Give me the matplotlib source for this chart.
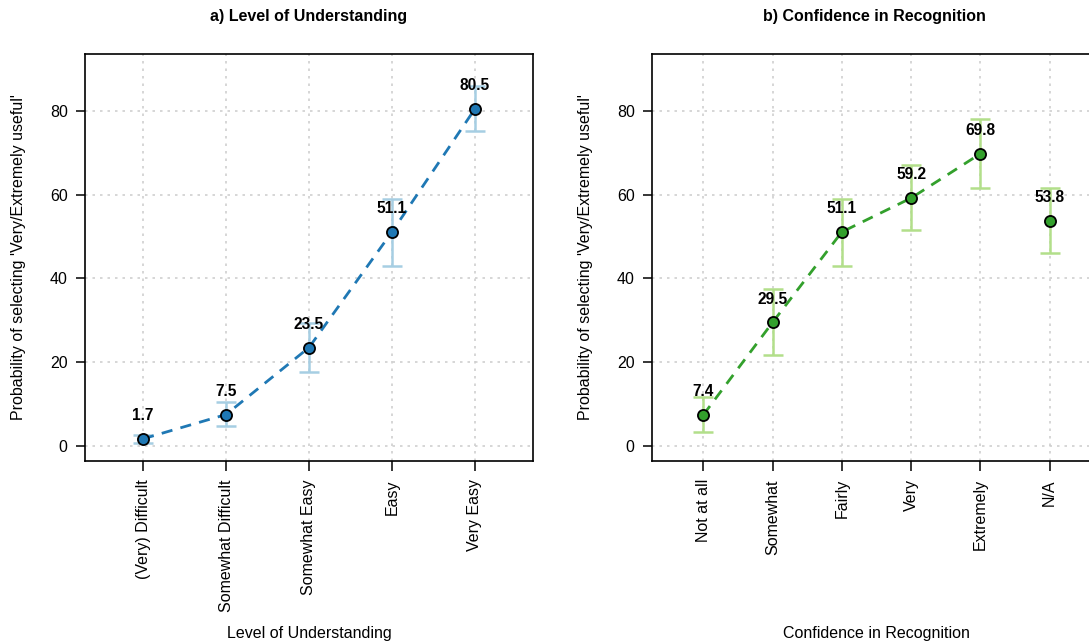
import matplotlib
matplotlib.use('Agg')
import matplotlib.pyplot as plt

plt.rcParams['font.family'] = ['Liberation Sans', 'DejaVu Sans']

# a) Level of Understanding
und_labels = ['(Very) Difficult', 'Somewhat Difficult', 'Somewhat Easy', 'Easy', 'Very Easy']
und_mean = [1.7, 7.5, 23.5, 51.1, 80.5]
und_low = [0.7, 4.8, 17.6, 43.0, 75.2]
und_high = [2.6, 10.5, 29.4, 59.0, 85.9]

# b) Confidence in Recognition
conf_labels = ['Not at all', 'Somewhat', 'Fairly', 'Very', 'Extremely', 'N/A']
conf_mean = [7.4, 29.5, 51.1, 59.2, 69.8, 53.8]
conf_low = [3.4, 21.7, 43.0, 51.6, 61.6, 46.0]
conf_high = [11.6, 37.4, 59.0, 67.0, 78.1, 61.7]

W, H = 1089, 644
fig = plt.figure(figsize=(W / 100, H / 100), dpi=100)

# right panel runs past the image edge, as in the original
ax1 = fig.add_axes([85 / W, (H - 461) / H, 448 / W, 407 / H])
ax2 = fig.add_axes([652 / W, (H - 461) / H, 449 / W, 407 / H])


def panel(ax, labels, mean, low, high, dark, light, n_line, title, xlabel):
    x = list(range(1, len(labels) + 1))
    ax.set_xlim(0.5 - 0.04 * len(labels), len(labels) + 0.5 + 0.04 * len(labels))
    ax.set_ylim(-3.6, 93.6)
    ax.grid(True, color='#cfcfcf', linestyle=(0, (1.5, 3)), linewidth=1.2)
    ax.set_axisbelow(True)
    yerr = [[m - l for m, l in zip(mean, low)], [h - m for m, h in zip(mean, high)]]
    ax.errorbar(x, mean, yerr=yerr, fmt='none', ecolor=light, elinewidth=1.8,
                capsize=7.5, capthick=1.8, zorder=2)
    ax.plot(x[:n_line], mean[:n_line], linestyle=(0, (4, 3)), color=dark,
            linewidth=2, zorder=3)
    ax.plot(x, mean, 'o', markersize=8, markerfacecolor=dark,
            markeredgecolor='black', markeredgewidth=1.3, zorder=4)
    for xi, m in zip(x, mean):
        ax.annotate(f'{m:.1f}', (xi, m), xytext=(0, 13.5), textcoords='offset points',
                    ha='center', va='baseline', fontsize=11.2, fontweight='bold')
    ax.set_xticks(x)
    ax.set_xticklabels(labels, rotation=90, fontsize=11.5)
    ax.set_yticks([0, 20, 40, 60, 80])
    ax.tick_params(axis='y', labelsize=11.5, length=6.5, width=1.1, pad=6)
    ax.tick_params(axis='x', length=7, width=1.1, pad=6)
    for s in ax.spines.values():
        s.set_linewidth(1.2)
    ax.set_title(title, fontsize=11.5, fontweight='bold', pad=24)
    ax.set_xlabel(xlabel, fontsize=11.5)
    ax.xaxis.set_label_coords(0.5, -0.405)
    ax.set_ylabel("Probability of selecting 'Very/Extremely useful'", fontsize=11.5)
    ax.yaxis.set_label_coords(-0.132, 0.5)


panel(ax1, und_labels, und_mean, und_low, und_high, '#1F78B4', '#A6CEE3', 5,
      'a) Level of Understanding', 'Level of Understanding')
panel(ax2, conf_labels, conf_mean, conf_low, conf_high, '#33A02C', '#B2DF8A', 5,
      'b) Confidence in Recognition', 'Confidence in Recognition')
ax2.title.set_position((0.5 - 2 / 449, 1))

fig.savefig('out.png', dpi=100)
